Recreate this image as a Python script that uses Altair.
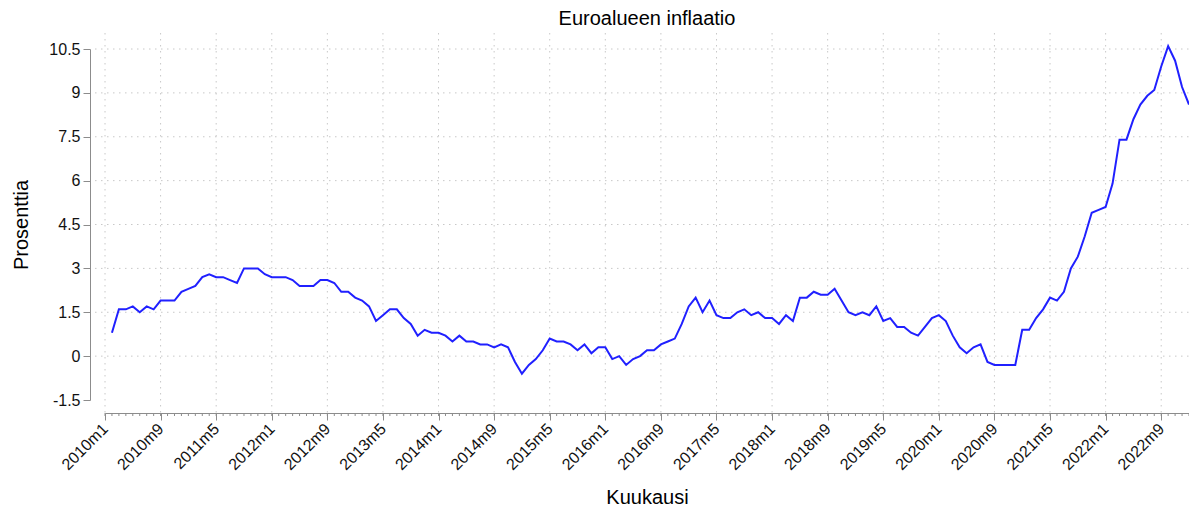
import altair as alt
import pandas as pd

# Euro area HICP inflation, % (2010m2 ... 2023m1)
infl_2010 = [0.8, 1.6, 1.6, 1.7, 1.5, 1.7, 1.6, 1.9, 1.9, 1.9, 2.2]  # Feb-Dec
infl_2011 = [2.3, 2.4, 2.7, 2.8, 2.7, 2.7, 2.6, 2.5, 3.0, 3.0, 3.0, 2.8]
infl_2012 = [2.7, 2.7, 2.7, 2.6, 2.4, 2.4, 2.4, 2.6, 2.6, 2.5, 2.2, 2.2]
infl_2013 = [2.0, 1.9, 1.7, 1.2, 1.4, 1.6, 1.6, 1.3, 1.1, 0.7, 0.9, 0.8]
infl_2014 = [0.8, 0.7, 0.5, 0.7, 0.5, 0.5, 0.4, 0.4, 0.3, 0.4, 0.3, -0.2]
infl_2015 = [-0.6, -0.3, -0.1, 0.2, 0.6, 0.5, 0.5, 0.4, 0.2, 0.4, 0.1, 0.3]
infl_2016 = [0.3, -0.1, 0.0, -0.3, -0.1, 0.0, 0.2, 0.2, 0.4, 0.5, 0.6, 1.1]
infl_2017 = [1.7, 2.0, 1.5, 1.9, 1.4, 1.3, 1.3, 1.5, 1.6, 1.4, 1.5, 1.3]
infl_2018 = [1.3, 1.1, 1.4, 1.2, 2.0, 2.0, 2.2, 2.1, 2.1, 2.3, 1.9, 1.5]
infl_2019 = [1.4, 1.5, 1.4, 1.7, 1.2, 1.3, 1.0, 1.0, 0.8, 0.7, 1.0, 1.3]
infl_2020 = [1.4, 1.2, 0.7, 0.3, 0.1, 0.3, 0.4, -0.2, -0.3, -0.3, -0.3, -0.3]
infl_2021 = [0.9, 0.9, 1.3, 1.6, 2.0, 1.9, 2.2, 3.0, 3.4, 4.1, 4.9, 5.0]
infl_2022 = [5.1, 5.9, 7.4, 7.4, 8.1, 8.6, 8.9, 9.1, 9.9, 10.6, 10.1, 9.2]
infl_2023 = [8.6]  # Jan

FIRST_MONTH = 1  # months since 2010m1 (2010m2)
AXIS_MONTHS = 156  # 2010m1 ... 2023m1

x_tick_labels = ["2010m1", "2010m9", "2011m5", "2012m1", "2012m9", "2013m5",
                 "2014m1", "2014m9", "2015m5", "2016m1", "2016m9", "2017m5",
                 "2018m1", "2018m9", "2019m5", "2020m1", "2020m9", "2021m5",
                 "2022m1", "2022m9"]
x_tick_step = 8
y_ticks = [-1.5, 0, 1.5, 3, 4.5, 6, 7.5, 9, 10.5]
y_grid = [0, 1.5, 3, 4.5, 6, 7.5, 9, 10.5]

values = (infl_2010 + infl_2011 + infl_2012 + infl_2013 + infl_2014 + infl_2015 +
          infl_2016 + infl_2017 + infl_2018 + infl_2019 + infl_2020 + infl_2021 +
          infl_2022 + infl_2023)
df = pd.DataFrame({"t": list(range(FIRST_MONTH, FIRST_MONTH + len(values))), "v": values})
major_pos = [i * x_tick_step for i in range(len(x_tick_labels))]
df_xgrid = pd.DataFrame({"t": major_pos})
df_minor = pd.DataFrame({"t": list(range(0, AXIS_MONTHS + 1))})
df_ygrid = pd.DataFrame({"v": y_grid})

W, H = 1084, 351
FONT = "Liberation Sans"
GRID = "#c8c8c8"
AXC = "#8c8c8c"

xscale = alt.Scale(domain=[0, AXIS_MONTHS], nice=False, zero=False)
yscale = alt.Scale(domain=[-1.5, 10.5], nice=False, zero=False)

label_array = "[" + ",".join("'%s'" % s for s in x_tick_labels) + "]"
x_axis = alt.Axis(
    values=major_pos,
    labelExpr="%s[round(datum.value / %d)]" % (label_array, x_tick_step),
    tickSize=7,
    labelAngle=-45, labelAlign="right", labelBaseline="middle", labelFontSize=16,
    labelPadding=6, labelOverlap=False, labelColor="#111",
    grid=False, offset=13, domainColor=AXC, tickColor=AXC,
    title="Kuukausi", titleFontSize=20, titleFontWeight="normal", titleColor="#000",
    titlePadding=15,
)
y_axis = alt.Axis(
    values=y_ticks, labelExpr="datum.value + ''", labelFontSize=16, labelColor="#111",
    labelPadding=3, tickSize=7, grid=False, offset=15, domainColor=AXC, tickColor=AXC,
    title="Prosenttia", titleFontSize=20, titleFontWeight="normal", titleColor="#000",
    titlePadding=17,
)

hgrid = alt.Chart(df_ygrid).mark_rule(color=GRID, strokeWidth=1, strokeDash=[1.5, 4.5]).encode(
    y=alt.Y("v:Q", scale=yscale, axis=y_axis),
    x=alt.value(-10), x2=alt.value(W + 4),
)
vgrid = alt.Chart(df_xgrid).mark_rule(color=GRID, strokeWidth=1, strokeDash=[1.5, 4.5]).encode(
    x=alt.X("t:Q", scale=xscale, axis=x_axis),
    y=alt.value(-16), y2=alt.value(H + 13),
)
minor = alt.Chart(df_minor).mark_rule(color=AXC, strokeWidth=1).encode(
    x=alt.X("t:Q", scale=xscale),
    y=alt.value(H + 13), y2=alt.value(H + 16),
)
line = alt.Chart(df).mark_line(color="#2020ff", strokeWidth=2).encode(
    x=alt.X("t:Q", scale=xscale),
    y=alt.Y("v:Q", scale=yscale),
)

chart = (
    alt.layer(hgrid, vgrid, minor, line)
    .properties(
        width=W, height=H,
        autosize=alt.AutoSizeParams(type="none"),
        padding={"left": 97, "top": 41, "right": 0, "bottom": 110},
        title=alt.Title("Euroalueen inflaatio", fontSize=20, fontWeight="normal",
                        font=FONT, color="#000", anchor="middle", offset=4),
    )
    .configure(background="white")
    .configure_axis(labelFont=FONT, titleFont=FONT)
    .configure_view(stroke=None)
)

chart.save("out.html", embed_options={"renderer": "svg", "actions": False})
